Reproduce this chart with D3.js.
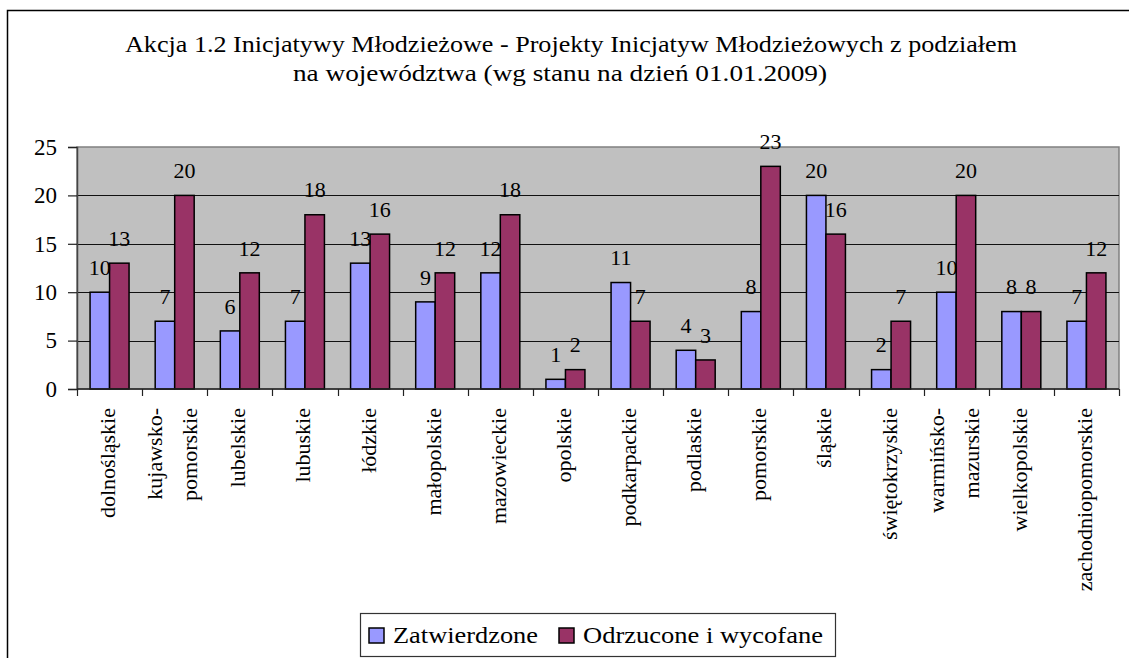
<!DOCTYPE html>
<html>
<head>
<meta charset="utf-8">
<script src="https://cdn.jsdelivr.net/npm/d3@7"></script>
<style>
  body { margin: 0; background: #fff; }
  svg text { font-family: "Liberation Serif", "Tinos", "Times New Roman", Times, "DejaVu Serif", "Noto Serif", serif; fill: #000; }
</style>
</head>
<body>
<div id="chart"></div>
<script>
// Data
var regions = ["dolnośląskie", "kujawsko-\npomorskie", "lubelskie", "lubuskie", "łódzkie",
               "małopolskie", "mazowieckie", "opolskie", "podkarpackie", "podlaskie",
               "pomorskie", "śląskie", "świętokrzyskie", "warmińsko-\nmazurskie",
               "wielkopolskie", "zachodniopomorskie"];
var zatwierdzone = [10, 7, 6, 7, 13, 9, 12, 1, 11, 4, 8, 20, 2, 10, 8, 7];
var odrzucone = [13, 20, 12, 18, 16, 12, 18, 2, 7, 3, 23, 16, 7, 20, 8, 12];
var seriesNames = ["Zatwierdzone", "Odrzucone i wycofane"];
var seriesColors = ["#9999FF", "#993366"];
var yTicks = [0, 5, 10, 15, 20, 25];
var titleLines = ["Akcja 1.2 Inicjatywy Młodzieżowe - Projekty Inicjatyw Młodzieżowych z podziałem",
                  "na województwa (wg stanu na dzień 01.01.2009)"];

var width = 1129, height = 658;
var plot = {left: 77, right: 1119, top: 147, bottom: 389};
var serif = "'Liberation Serif', 'Tinos', 'Times New Roman', Times, 'DejaVu Serif', serif";

var data = regions.map(function(r, i) {
    return {region: r, values: [zatwierdzone[i], odrzucone[i]]};
});

var svg = d3.select("#chart").append("svg")
    .attr("width", width)
    .attr("height", height)
    .attr("font-family", serif);

// outer chart border
svg.append("rect")
    .attr("x", 7.5).attr("y", 10.5)
    .attr("width", 1140).attr("height", 700)
    .attr("fill", "#fff")
    .attr("stroke", "#000")
    .attr("stroke-width", 1.5);

// title (stretched a little, like the original)
var titleX = [125, 293], titleW = [892, 534];
svg.selectAll(".title")
    .data(titleLines)
    .enter().append("text")
    .attr("class", "title")
    .attr("x", (d, i) => titleX[i])
    .attr("y", (d, i) => 52 + i * 29)
    .attr("textLength", (d, i) => titleW[i])
    .attr("lengthAdjust", "spacingAndGlyphs")
    .style("font-size", "23px")
    .text(d => d);

// scales
var x0 = d3.scaleBand()
    .domain(regions)
    .range([plot.left, plot.right]);

var x1 = d3.scaleBand()
    .domain([0, 1])
    .range([0, x0.bandwidth()])
    .paddingOuter(0.67);

var y = d3.scaleLinear()
    .domain([0, 25])
    .range([plot.bottom, plot.top]);

// plot area
svg.append("rect")
    .attr("x", plot.left).attr("y", plot.top)
    .attr("width", plot.right - plot.left)
    .attr("height", plot.bottom - plot.top)
    .attr("fill", "#C0C0C0")
    .attr("stroke", "#808080")
    .attr("stroke-width", 1.5);

// gridlines
svg.append("g")
    .selectAll("line")
    .data(yTicks.filter(d => d > 0 && d < 25))
    .enter().append("line")
    .attr("x1", plot.left).attr("x2", plot.right)
    .attr("y1", d => Math.round(y(d)) + 0.5)
    .attr("y2", d => Math.round(y(d)) + 0.5)
    .attr("stroke", "#111")
    .attr("stroke-width", 1);

// bars
var groups = svg.append("g")
    .selectAll("g")
    .data(data)
    .enter().append("g")
    .attr("transform", d => "translate(" + x0(d.region) + ",0)");

groups.selectAll("rect")
    .data(d => d.values)
    .enter().append("rect")
    .attr("x", (d, i) => x1(i))
    .attr("y", d => y(d))
    .attr("width", x1.bandwidth())
    .attr("height", d => y(0) - y(d))
    .attr("fill", (d, i) => seriesColors[i])
    .attr("stroke", "#000")
    .attr("stroke-width", 1.5);

// data labels
groups.selectAll(".lbl")
    .data(d => d.values)
    .enter().append("text")
    .attr("class", "lbl")
    .attr("x", (d, i) => x1(i) + x1.bandwidth() / 2)
    .attr("y", d => y(d) - 25)
    .attr("dy", "0.35em")
    .attr("text-anchor", "middle")
    .style("font-size", "22px")
    .text(d => d);

// y axis
var yAxis = svg.append("g")
    .attr("transform", "translate(" + plot.left + ",0)")
    .call(d3.axisLeft(y).tickValues(yTicks).tickSize(9).tickPadding(11));
yAxis.attr("font-family", serif);
yAxis.select(".domain").attr("stroke", "#444").attr("stroke-width", 1.5);
yAxis.selectAll(".tick line").attr("stroke", "#222").attr("stroke-width", 1.2);
yAxis.selectAll("text")
    .style("font-size", "23px")
    .attr("fill", "#000");

// x axis line and ticks at category boundaries
svg.append("line")
    .attr("x1", plot.left).attr("x2", plot.right)
    .attr("y1", plot.bottom).attr("y2", plot.bottom)
    .attr("stroke", "#222").attr("stroke-width", 1.5);

svg.append("g")
    .selectAll("line")
    .data(regions.concat(["end"]))
    .enter().append("line")
    .attr("x1", (d, i) => Math.round(plot.left + i * x0.step()) + 0.5)
    .attr("x2", (d, i) => Math.round(plot.left + i * x0.step()) + 0.5)
    .attr("y1", plot.bottom).attr("y2", plot.bottom + 7)
    .attr("stroke", "#222").attr("stroke-width", 1.2);

// rotated category labels
var xl = svg.append("g")
    .selectAll("text")
    .data(regions)
    .enter().append("text")
    .attr("transform", d => "translate(" + (x0(d) + x0.bandwidth() / 2) + "," + 408 + ") rotate(-90)")
    .attr("text-anchor", "end")
    .style("font-size", "22px");

xl.each(function(d) {
    var lines = d.split("\n");
    var t = d3.select(this);
    lines.forEach(function(line, i) {
        var off = lines.length === 1 ? -2 : (i === 0 ? -20 : 15);
        t.append("tspan")
            .attr("x", 0)
            .attr("y", off)
            .attr("dominant-baseline", "central")
            .text(line);
    });
});

// legend
var legend = svg.append("g");
legend.append("rect")
    .attr("x", 360.5).attr("y", 613.5)
    .attr("width", 475).attr("height", 43)
    .attr("fill", "#fff")
    .attr("stroke", "#333")
    .attr("stroke-width", 1.2);

var legendX = [369, 559], legendW = [145, 240];
seriesNames.forEach(function(name, i) {
    legend.append("rect")
        .attr("x", legendX[i]).attr("y", 628)
        .attr("width", 15).attr("height", 15)
        .attr("fill", seriesColors[i])
        .attr("stroke", "#000")
        .attr("stroke-width", 1.5);
    legend.append("text")
        .attr("x", legendX[i] + 24)
        .attr("y", 643)
        .attr("textLength", legendW[i])
        .attr("lengthAdjust", "spacingAndGlyphs")
        .style("font-size", "24px")
        .text(name);
});
</script>
</body>
</html>
